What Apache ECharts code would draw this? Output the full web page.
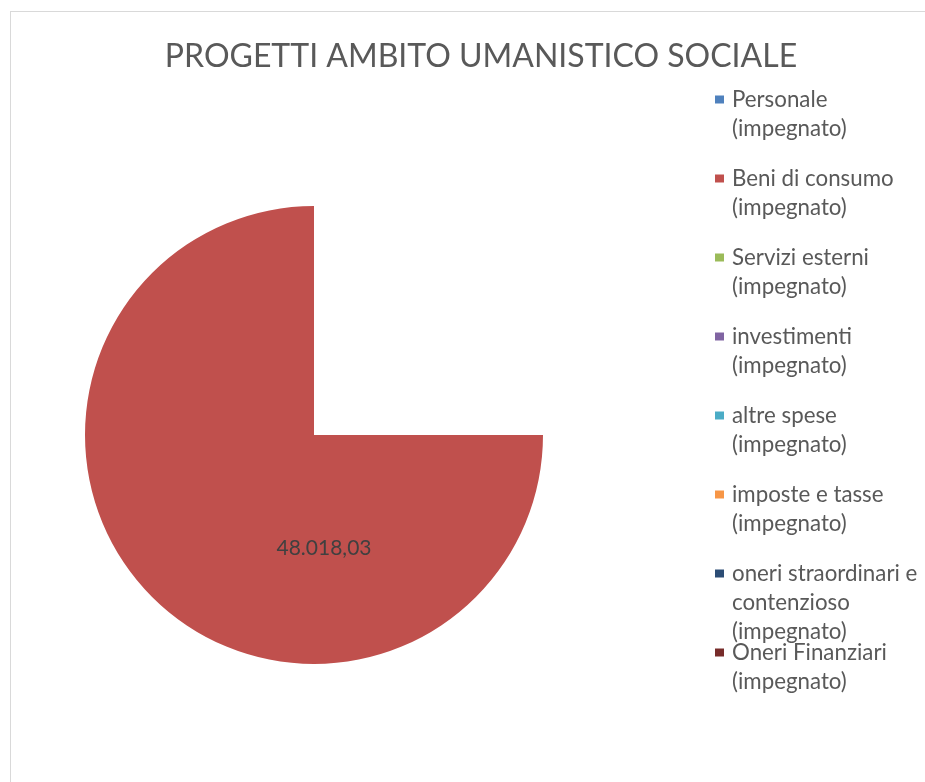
<!DOCTYPE html>
<html>
<head>
<meta charset="utf-8">
<title>Progetti ambito umanistico sociale</title>
<script src="https://cdn.jsdelivr.net/npm/echarts@6/dist/echarts.min.js"></script>
<style>
  html, body { margin: 0; padding: 0; background: #fff; }
  .wrap { position: relative; width: 925px; height: 782px; overflow: hidden; }
  .frame { position: absolute; left: 10px; top: 11px; width: 1000px; height: 900px; border: 1px solid #d9d9d9; box-sizing: border-box; }
  #chart { position: absolute; left: 0; top: 0; width: 925px; height: 782px; }
</style>
</head>
<body>
<div class="wrap">
  <div class="frame"></div>
  <div id="chart"></div>
</div>
<script>
// Categories (legend order)
const categories = [
  'Personale (impegnato)',
  'Beni di consumo (impegnato)',
  'Servizi esterni (impegnato)',
  'investimenti (impegnato)',
  'altre spese (impegnato)',
  'imposte e tasse (impegnato)',
  'oneri straordinari e contenzioso (impegnato)',
  'Oneri Finanziari (impegnato)',
];

// Values (only "Beni di consumo" has an amount)
const values = [0, 48018.03, 0, 0, 0, 0, 0, 0];

// Office palette
const colors = ['#4F81BD', '#C0504D', '#9BBB59', '#8064A2', '#4BACC6', '#F79646', '#2C4D75', '#772C2A'];

const FONT = 'Lato, "Open Sans", sans-serif';
const LEGEND_SIZE = 22.3;
const LINE_H = 29;
const WRAP_W = 200;

// 48018.03 -> 48.018,03
const formatIt = (v) => {
  const parts = v.toFixed(2).split('.');
  return parts[0].replace(/\B(?=(\d{3})+(?!\d))/g, '.') + ',' + parts[1];
};

// Wrap a legend name like Excel does: "(impegnato)" on its own line,
// the rest broken by words to fit the legend width
const ctx = document.createElement('canvas').getContext('2d');
ctx.font = LEGEND_SIZE + 'px ' + FONT;
const wrapName = (name) => {
  const head = name.replace(' (impegnato)', '');
  const lines = [];
  let cur = '';
  head.split(' ').forEach(w => {
    const next = cur ? cur + ' ' + w : w;
    if (cur && ctx.measureText(next).width > WRAP_W) {
      lines.push(cur);
      cur = w;
    } else {
      cur = next;
    }
  });
  lines.push(cur);
  if (head !== name) lines.push('(impegnato)');
  return lines;
};

// One legend per entry so every entry keeps the same pitch and the icon sits
// on the first text line (blank lines above keep it centred on line 1)
const legends = categories.map((name, i) => {
  const lines = wrapName(name);
  const pad = lines.length - 1;
  const firstLineY = 98 + i * 79;
  return {
    orient: 'vertical',
    left: 715,
    top: firstLineY - pad * LINE_H - 13,
    padding: 0,
    itemWidth: 9,
    itemHeight: 8,
    itemGap: 0,
    icon: 'rect',
    selectedMode: false,
    data: [name],
    formatter: () => '\n'.repeat(pad) + lines.join('\n'),
    textStyle: {
      fontFamily: FONT,
      fontSize: LEGEND_SIZE,
      color: '#595959',
      lineHeight: LINE_H,
      padding: [0, 0, 0, 3],
    },
  };
});

const chart = echarts.init(document.getElementById('chart'));

const option = {
  color: colors,
  animation: false,
  title: {
    text: 'PROGETTI AMBITO UMANISTICO SOCIALE',
    left: 481,
    textAlign: 'center',
    top: 41,
    padding: 0,
    textStyle: {
      fontFamily: FONT,
      fontWeight: 'normal',
      fontSize: 32,
      color: '#595959',
    },
  },
  legend: legends,
  series: [{
    type: 'pie',
    center: [314, 435],
    radius: 229,
    startAngle: 0,
    endAngle: -270,
    clockwise: true,
    stillShowZeroSum: false,
    data: categories.map((name, i) => ({ name, value: values[i] })),
    itemStyle: { borderWidth: 0 },
    label: {
      position: 'center',
      fontFamily: FONT,
      fontSize: 21,
      color: '#404040',
      formatter: (p) => (p.value ? formatIt(p.value) : ''),
    },
    labelLine: { show: false },
    labelLayout: { dx: 10, dy: 113 },
    emphasis: { disabled: true },
  }],
};

chart.setOption(option);
</script>
</body>
</html>
